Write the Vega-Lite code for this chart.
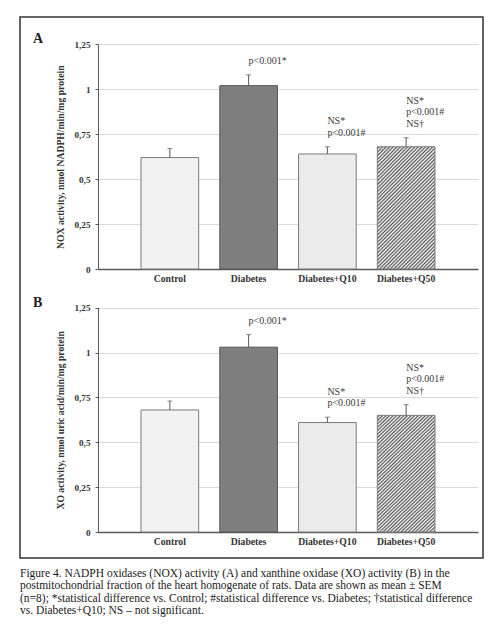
{
  "$schema": "https://vega.github.io/schema/vega-lite/v6.json",
  "width": 463,
  "height": 541,
  "autosize": {"type": "none"},
  "padding": {"left": 20, "top": 17, "right": 12, "bottom": 72},
  "background": "white",
  "config": {
    "view": {"stroke": "#333333", "strokeWidth": 1.5},
    "font": "Liberation Serif"
  },
  "title": {
    "text": [
      "Figure 4. NADPH oxidases (NOX) activity (A) and xanthine oxidase (XO) activity (B) in the",
      "postmitochondrial fraction of the heart homogenate of rats. Data are shown as mean ± SEM",
      "(n=8); *statistical difference vs. Control; #statistical difference vs. Diabetes; †statistical difference",
      "vs. Diabetes+Q10; NS – not significant."
    ],
    "orient": "bottom",
    "anchor": "start",
    "font": "Liberation Serif",
    "fontSize": 11.5,
    "fontWeight": "normal",
    "color": "#1a1a1a",
    "lineHeight": 12.3,
    "offset": 10
  },
  "datasets": {
    "nox": [
      {"group": "Control", "mean": 0.62, "hi": 0.67, "note1": "", "note2": "", "note3": ""},
      {"group": "Diabetes", "mean": 1.02, "hi": 1.08, "note1": "p<0.001*", "note2": "", "note3": ""},
      {"group": "Diabetes+Q10", "mean": 0.64, "hi": 0.68, "note1": "p<0.001#", "note2": "NS*", "note3": ""},
      {"group": "Diabetes+Q50", "mean": 0.68, "hi": 0.73, "note1": "NS†", "note2": "p<0.001#", "note3": "NS*"}
    ],
    "xo": [
      {"group": "Control", "mean": 0.68, "hi": 0.73, "note1": "", "note2": "", "note3": ""},
      {"group": "Diabetes", "mean": 1.03, "hi": 1.10, "note1": "p<0.001*", "note2": "", "note3": ""},
      {"group": "Diabetes+Q10", "mean": 0.61, "hi": 0.64, "note1": "p<0.001#", "note2": "NS*", "note3": ""},
      {"group": "Diabetes+Q50", "mean": 0.65, "hi": 0.71, "note1": "NS†", "note2": "p<0.001#", "note3": "NS*"}
    ]
  },
  "layer": [
    {
      "data": {"name": "nox"},
      "encoding": {
        "x": {
          "field": "group", "type": "nominal",
          "scale": {"domain": ["Control", "Diabetes", "Diabetes+Q10", "Diabetes+Q50"], "range": [78, 458], "paddingInner": 0.268, "paddingOuter": 0.546},
          "axis": {"orient": "bottom", "offset": -289, "title": null, "ticks": false, "labelAngle": 0, "labelFont": "Liberation Serif", "labelFontWeight": "bold", "labelFontSize": 9.7, "labelColor": "#333333", "labelPadding": 4, "domainColor": "#595959", "domainWidth": 1.5, "grid": false}
        },
        "y": {
          "type": "quantitative",
          "scale": {"domain": [0, 1.25], "range": [252, 27.3], "nice": false, "zero": true},
          "axis": {"orient": "left", "offset": -78, "values": [0, 0.25, 0.5, 0.75, 1, 1.25], "labelExpr": "replace(toString(datum.value), '.', ',')", "labelFont": "Liberation Serif", "labelFontWeight": "bold", "labelFontSize": 9.2, "labelColor": "#333333", "labelPadding": 5, "tickSize": 3, "tickColor": "#595959", "domainColor": "#595959", "grid": true, "gridColor": "#d9d9d9", "title": "NOX activity, nmol NADPH/min/mg protein", "titleFont": "Liberation Serif", "titleFontWeight": "bold", "titleFontSize": 9.7, "titleColor": "#333333", "titlePadding": 8}
        }
      },
      "layer": [
        {
          "mark": {"type": "bar", "strokeWidth": 1},
          "encoding": {
            "y": {"field": "mean"},
            "fill": {
              "condition": [
                {"test": "datum.group === 'Control'", "value": "#f2f2f2"},
                {"test": "datum.group === 'Diabetes'", "value": "#7f7f7f"},
                {"test": "datum.group === 'Diabetes+Q10'", "value": "#ebebeb"}
              ],
              "value": {"gradient": "linear", "x1": 0, "y1": 0, "x2": 0.572, "y2": 1.2035, "stops": [
                {"offset": 0, "color": "#ffffff"}, {"offset": 0.01, "color": "#555555"}, {"offset": 0.02, "color": "#ffffff"}, {"offset": 0.03, "color": "#555555"}, {"offset": 0.04, "color": "#ffffff"}, {"offset": 0.05, "color": "#555555"}, {"offset": 0.06, "color": "#ffffff"}, {"offset": 0.07, "color": "#555555"}, {"offset": 0.08, "color": "#ffffff"}, {"offset": 0.09, "color": "#555555"},
                {"offset": 0.1, "color": "#ffffff"}, {"offset": 0.11, "color": "#555555"}, {"offset": 0.12, "color": "#ffffff"}, {"offset": 0.13, "color": "#555555"}, {"offset": 0.14, "color": "#ffffff"}, {"offset": 0.15, "color": "#555555"}, {"offset": 0.16, "color": "#ffffff"}, {"offset": 0.17, "color": "#555555"}, {"offset": 0.18, "color": "#ffffff"}, {"offset": 0.19, "color": "#555555"},
                {"offset": 0.2, "color": "#ffffff"}, {"offset": 0.21, "color": "#555555"}, {"offset": 0.22, "color": "#ffffff"}, {"offset": 0.23, "color": "#555555"}, {"offset": 0.24, "color": "#ffffff"}, {"offset": 0.25, "color": "#555555"}, {"offset": 0.26, "color": "#ffffff"}, {"offset": 0.27, "color": "#555555"}, {"offset": 0.28, "color": "#ffffff"}, {"offset": 0.29, "color": "#555555"},
                {"offset": 0.3, "color": "#ffffff"}, {"offset": 0.31, "color": "#555555"}, {"offset": 0.32, "color": "#ffffff"}, {"offset": 0.33, "color": "#555555"}, {"offset": 0.34, "color": "#ffffff"}, {"offset": 0.35, "color": "#555555"}, {"offset": 0.36, "color": "#ffffff"}, {"offset": 0.37, "color": "#555555"}, {"offset": 0.38, "color": "#ffffff"}, {"offset": 0.39, "color": "#555555"},
                {"offset": 0.4, "color": "#ffffff"}, {"offset": 0.41, "color": "#555555"}, {"offset": 0.42, "color": "#ffffff"}, {"offset": 0.43, "color": "#555555"}, {"offset": 0.44, "color": "#ffffff"}, {"offset": 0.45, "color": "#555555"}, {"offset": 0.46, "color": "#ffffff"}, {"offset": 0.47, "color": "#555555"}, {"offset": 0.48, "color": "#ffffff"}, {"offset": 0.49, "color": "#555555"},
                {"offset": 0.5, "color": "#ffffff"}, {"offset": 0.51, "color": "#555555"}, {"offset": 0.52, "color": "#ffffff"}, {"offset": 0.53, "color": "#555555"}, {"offset": 0.54, "color": "#ffffff"}, {"offset": 0.55, "color": "#555555"}, {"offset": 0.56, "color": "#ffffff"}, {"offset": 0.57, "color": "#555555"}, {"offset": 0.58, "color": "#ffffff"}, {"offset": 0.59, "color": "#555555"},
                {"offset": 0.6, "color": "#ffffff"}, {"offset": 0.61, "color": "#555555"}, {"offset": 0.62, "color": "#ffffff"}, {"offset": 0.63, "color": "#555555"}, {"offset": 0.64, "color": "#ffffff"}, {"offset": 0.65, "color": "#555555"}, {"offset": 0.66, "color": "#ffffff"}, {"offset": 0.67, "color": "#555555"}, {"offset": 0.68, "color": "#ffffff"}, {"offset": 0.69, "color": "#555555"},
                {"offset": 0.7, "color": "#ffffff"}, {"offset": 0.71, "color": "#555555"}, {"offset": 0.72, "color": "#ffffff"}, {"offset": 0.73, "color": "#555555"}, {"offset": 0.74, "color": "#ffffff"}, {"offset": 0.75, "color": "#555555"}, {"offset": 0.76, "color": "#ffffff"}, {"offset": 0.77, "color": "#555555"}, {"offset": 0.78, "color": "#ffffff"}, {"offset": 0.79, "color": "#555555"},
                {"offset": 0.8, "color": "#ffffff"}, {"offset": 0.81, "color": "#555555"}, {"offset": 0.82, "color": "#ffffff"}, {"offset": 0.83, "color": "#555555"}, {"offset": 0.84, "color": "#ffffff"}, {"offset": 0.85, "color": "#555555"}, {"offset": 0.86, "color": "#ffffff"}, {"offset": 0.87, "color": "#555555"}, {"offset": 0.88, "color": "#ffffff"}, {"offset": 0.89, "color": "#555555"},
                {"offset": 0.9, "color": "#ffffff"}, {"offset": 0.91, "color": "#555555"}, {"offset": 0.92, "color": "#ffffff"}, {"offset": 0.93, "color": "#555555"}, {"offset": 0.94, "color": "#ffffff"}, {"offset": 0.95, "color": "#555555"}, {"offset": 0.96, "color": "#ffffff"}, {"offset": 0.97, "color": "#555555"}, {"offset": 0.98, "color": "#ffffff"}, {"offset": 0.99, "color": "#555555"},
                {"offset": 1, "color": "#ffffff"}
              ]}
            },
            "stroke": {"condition": {"test": "datum.group === 'Diabetes'", "value": "#555555"}, "value": "#7a7a7a"}
          }
        },
        {
          "mark": {"type": "rule", "color": "#595959", "strokeWidth": 1},
          "encoding": {"y": {"field": "mean"}, "y2": {"field": "hi"}}
        },
        {
          "mark": {"type": "tick", "color": "#595959", "size": 5, "thickness": 1},
          "encoding": {"y": {"field": "hi"}}
        },
        {
          "mark": {"type": "text", "align": "left", "baseline": "bottom", "dy": -9, "fontSize": 10, "font": "Liberation Serif", "color": "#3a3a3a"},
          "encoding": {"y": {"field": "hi"}, "text": {"field": "note1"}}
        },
        {
          "mark": {"type": "text", "align": "left", "baseline": "bottom", "dy": -20.5, "fontSize": 10, "font": "Liberation Serif", "color": "#3a3a3a"},
          "encoding": {"y": {"field": "hi"}, "text": {"field": "note2"}}
        },
        {
          "mark": {"type": "text", "align": "left", "baseline": "bottom", "dy": -32, "fontSize": 10, "font": "Liberation Serif", "color": "#3a3a3a"},
          "encoding": {"y": {"field": "hi"}, "text": {"field": "note3"}}
        },
        {
          "data": {"values": [{"panel": "A"}]},
          "mark": {"type": "text", "align": "left", "baseline": "middle", "dx": -108, "dy": -5, "fontSize": 14, "fontWeight": "bold", "font": "Liberation Serif", "color": "#222222"},
          "encoding": {"x": {"datum": "Control", "bandPosition": 0}, "y": {"datum": 1.25}, "text": {"field": "panel"}}
        }
      ]
    },
    {
      "data": {"name": "xo"},
      "encoding": {
        "x": {
          "field": "group", "type": "nominal",
          "scale": {"domain": ["Control", "Diabetes", "Diabetes+Q10", "Diabetes+Q50"], "range": [78, 458], "paddingInner": 0.268, "paddingOuter": 0.546},
          "axis": {"orient": "bottom", "offset": -26, "title": null, "ticks": false, "labelAngle": 0, "labelFont": "Liberation Serif", "labelFontWeight": "bold", "labelFontSize": 9.7, "labelColor": "#333333", "labelPadding": 4, "domainColor": "#595959", "domainWidth": 1.5, "grid": false}
        },
        "y": {
          "type": "quantitative",
          "scale": {"domain": [0, 1.25], "range": [515, 290.7], "nice": false, "zero": true},
          "axis": {"orient": "left", "offset": -78, "values": [0, 0.25, 0.5, 0.75, 1, 1.25], "labelExpr": "replace(toString(datum.value), '.', ',')", "labelFont": "Liberation Serif", "labelFontWeight": "bold", "labelFontSize": 9.2, "labelColor": "#333333", "labelPadding": 5, "tickSize": 3, "tickColor": "#595959", "domainColor": "#595959", "grid": true, "gridColor": "#d9d9d9", "title": "XO activity, nmol uric acid/min/mg protein", "titleFont": "Liberation Serif", "titleFontWeight": "bold", "titleFontSize": 9.7, "titleColor": "#333333", "titlePadding": 8}
        }
      },
      "layer": [
        {
          "mark": {"type": "bar", "strokeWidth": 1},
          "encoding": {
            "y": {"field": "mean"},
            "fill": {
              "condition": [
                {"test": "datum.group === 'Control'", "value": "#f2f2f2"},
                {"test": "datum.group === 'Diabetes'", "value": "#7f7f7f"},
                {"test": "datum.group === 'Diabetes+Q10'", "value": "#ebebeb"}
              ],
              "value": {"gradient": "linear", "x1": 0, "y1": 0, "x2": 0.572, "y2": 1.2035, "stops": [
                {"offset": 0, "color": "#ffffff"}, {"offset": 0.01, "color": "#555555"}, {"offset": 0.02, "color": "#ffffff"}, {"offset": 0.03, "color": "#555555"}, {"offset": 0.04, "color": "#ffffff"}, {"offset": 0.05, "color": "#555555"}, {"offset": 0.06, "color": "#ffffff"}, {"offset": 0.07, "color": "#555555"}, {"offset": 0.08, "color": "#ffffff"}, {"offset": 0.09, "color": "#555555"},
                {"offset": 0.1, "color": "#ffffff"}, {"offset": 0.11, "color": "#555555"}, {"offset": 0.12, "color": "#ffffff"}, {"offset": 0.13, "color": "#555555"}, {"offset": 0.14, "color": "#ffffff"}, {"offset": 0.15, "color": "#555555"}, {"offset": 0.16, "color": "#ffffff"}, {"offset": 0.17, "color": "#555555"}, {"offset": 0.18, "color": "#ffffff"}, {"offset": 0.19, "color": "#555555"},
                {"offset": 0.2, "color": "#ffffff"}, {"offset": 0.21, "color": "#555555"}, {"offset": 0.22, "color": "#ffffff"}, {"offset": 0.23, "color": "#555555"}, {"offset": 0.24, "color": "#ffffff"}, {"offset": 0.25, "color": "#555555"}, {"offset": 0.26, "color": "#ffffff"}, {"offset": 0.27, "color": "#555555"}, {"offset": 0.28, "color": "#ffffff"}, {"offset": 0.29, "color": "#555555"},
                {"offset": 0.3, "color": "#ffffff"}, {"offset": 0.31, "color": "#555555"}, {"offset": 0.32, "color": "#ffffff"}, {"offset": 0.33, "color": "#555555"}, {"offset": 0.34, "color": "#ffffff"}, {"offset": 0.35, "color": "#555555"}, {"offset": 0.36, "color": "#ffffff"}, {"offset": 0.37, "color": "#555555"}, {"offset": 0.38, "color": "#ffffff"}, {"offset": 0.39, "color": "#555555"},
                {"offset": 0.4, "color": "#ffffff"}, {"offset": 0.41, "color": "#555555"}, {"offset": 0.42, "color": "#ffffff"}, {"offset": 0.43, "color": "#555555"}, {"offset": 0.44, "color": "#ffffff"}, {"offset": 0.45, "color": "#555555"}, {"offset": 0.46, "color": "#ffffff"}, {"offset": 0.47, "color": "#555555"}, {"offset": 0.48, "color": "#ffffff"}, {"offset": 0.49, "color": "#555555"},
                {"offset": 0.5, "color": "#ffffff"}, {"offset": 0.51, "color": "#555555"}, {"offset": 0.52, "color": "#ffffff"}, {"offset": 0.53, "color": "#555555"}, {"offset": 0.54, "color": "#ffffff"}, {"offset": 0.55, "color": "#555555"}, {"offset": 0.56, "color": "#ffffff"}, {"offset": 0.57, "color": "#555555"}, {"offset": 0.58, "color": "#ffffff"}, {"offset": 0.59, "color": "#555555"},
                {"offset": 0.6, "color": "#ffffff"}, {"offset": 0.61, "color": "#555555"}, {"offset": 0.62, "color": "#ffffff"}, {"offset": 0.63, "color": "#555555"}, {"offset": 0.64, "color": "#ffffff"}, {"offset": 0.65, "color": "#555555"}, {"offset": 0.66, "color": "#ffffff"}, {"offset": 0.67, "color": "#555555"}, {"offset": 0.68, "color": "#ffffff"}, {"offset": 0.69, "color": "#555555"},
                {"offset": 0.7, "color": "#ffffff"}, {"offset": 0.71, "color": "#555555"}, {"offset": 0.72, "color": "#ffffff"}, {"offset": 0.73, "color": "#555555"}, {"offset": 0.74, "color": "#ffffff"}, {"offset": 0.75, "color": "#555555"}, {"offset": 0.76, "color": "#ffffff"}, {"offset": 0.77, "color": "#555555"}, {"offset": 0.78, "color": "#ffffff"}, {"offset": 0.79, "color": "#555555"},
                {"offset": 0.8, "color": "#ffffff"}, {"offset": 0.81, "color": "#555555"}, {"offset": 0.82, "color": "#ffffff"}, {"offset": 0.83, "color": "#555555"}, {"offset": 0.84, "color": "#ffffff"}, {"offset": 0.85, "color": "#555555"}, {"offset": 0.86, "color": "#ffffff"}, {"offset": 0.87, "color": "#555555"}, {"offset": 0.88, "color": "#ffffff"}, {"offset": 0.89, "color": "#555555"},
                {"offset": 0.9, "color": "#ffffff"}, {"offset": 0.91, "color": "#555555"}, {"offset": 0.92, "color": "#ffffff"}, {"offset": 0.93, "color": "#555555"}, {"offset": 0.94, "color": "#ffffff"}, {"offset": 0.95, "color": "#555555"}, {"offset": 0.96, "color": "#ffffff"}, {"offset": 0.97, "color": "#555555"}, {"offset": 0.98, "color": "#ffffff"}, {"offset": 0.99, "color": "#555555"},
                {"offset": 1, "color": "#ffffff"}
              ]}
            },
            "stroke": {"condition": {"test": "datum.group === 'Diabetes'", "value": "#555555"}, "value": "#7a7a7a"}
          }
        },
        {
          "mark": {"type": "rule", "color": "#595959", "strokeWidth": 1},
          "encoding": {"y": {"field": "mean"}, "y2": {"field": "hi"}}
        },
        {
          "mark": {"type": "tick", "color": "#595959", "size": 5, "thickness": 1},
          "encoding": {"y": {"field": "hi"}}
        },
        {
          "mark": {"type": "text", "align": "left", "baseline": "bottom", "dy": -9, "fontSize": 10, "font": "Liberation Serif", "color": "#3a3a3a"},
          "encoding": {"y": {"field": "hi"}, "text": {"field": "note1"}}
        },
        {
          "mark": {"type": "text", "align": "left", "baseline": "bottom", "dy": -20.5, "fontSize": 10, "font": "Liberation Serif", "color": "#3a3a3a"},
          "encoding": {"y": {"field": "hi"}, "text": {"field": "note2"}}
        },
        {
          "mark": {"type": "text", "align": "left", "baseline": "bottom", "dy": -32, "fontSize": 10, "font": "Liberation Serif", "color": "#3a3a3a"},
          "encoding": {"y": {"field": "hi"}, "text": {"field": "note3"}}
        },
        {
          "data": {"values": [{"panel": "B"}]},
          "mark": {"type": "text", "align": "left", "baseline": "middle", "dx": -108, "dy": -5, "fontSize": 14, "fontWeight": "bold", "font": "Liberation Serif", "color": "#222222"},
          "encoding": {"x": {"datum": "Control", "bandPosition": 0}, "y": {"datum": 1.25}, "text": {"field": "panel"}}
        }
      ]
    }
  ],
  "resolve": {
    "scale": {"x": "independent", "y": "independent"},
    "axis": {"x": "independent", "y": "independent"}
  }
}
